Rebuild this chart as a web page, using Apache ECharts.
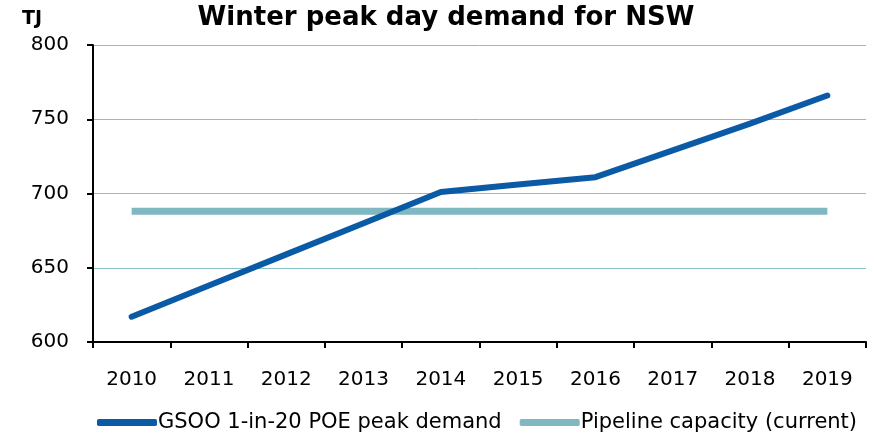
<!DOCTYPE html>
<html><head><meta charset="utf-8">
<script src="https://cdn.jsdelivr.net/npm/echarts@6/dist/echarts.min.js"></script>
<style>html,body{margin:0;padding:0;background:#fff}#c{width:874px;height:435px}</style>
</head><body><div id="c"></div>
<script>
var categories = ['2010','2011','2012','2013','2014','2015','2016','2017','2018','2019'];
var demand = [617, 638, 659, 680, 701, 706, 711, 729, 747, 766];
var pipeline = [688, 688, 688, 688, 688, 688, 688, 688, 688, 688];
var seriesNames = ['GSOO 1-in-20 POE peak demand', 'Pipeline capacity (current)'];
var yTicks = {min: 600, max: 800, interval: 50};
var FONT = 'DejaVu Sans, Verdana, sans-serif';
var chart = echarts.init(document.getElementById('c'));
chart.setOption({
  animation: false,
  title: {text: 'Winter peak day demand for NSW', left: 441, textAlign: 'center', top: 0,
    textStyle: {fontFamily: FONT, fontWeight: 'bold', fontSize: 26, color: '#000'}},
  graphic: [{type: 'text', left: 22, top: 10, style: {text: 'TJ', font: 'bold 19px ' + FONT, fill: '#000'}}],
  legend: {top: 412, left: 97, padding: 0, itemWidth: 60, itemHeight: 7, itemGap: 18,
    textStyle: {fontFamily: FONT, fontSize: 21, color: '#000', padding: [0,0,0,-4]},
    data: [{name: seriesNames[0], icon: 'roundRect', itemStyle: {color: '#0B5AA6'}},
           {name: seriesNames[1], icon: 'roundRect', itemStyle: {color: '#7FB8C1'}}]},
  grid: {left: 93, right: 8, top: 45, bottom: 93},
  xAxis: {type: 'category', data: categories, boundaryGap: true,
    axisLine: {lineStyle: {color: '#000', width: 2}},
    axisTick: {show: true, length: 6, lineStyle: {color: '#000', width: 2}},
    axisLabel: {fontFamily: FONT, fontSize: 20, color: '#000', margin: 28}},
  yAxis: {type: 'value', min: yTicks.min, max: yTicks.max, interval: yTicks.interval,
    axisLine: {show: true, lineStyle: {color: '#000', width: 2}},
    axisTick: {show: true, length: 6, lineStyle: {color: '#000', width: 2}},
    axisLabel: {fontFamily: FONT, fontSize: 20, color: '#000', margin: 24},
    splitLine: {lineStyle: {color: '#86C0C8', width: 1}}},
  series: [
    {name: seriesNames[1], type: 'line', data: pipeline, symbol: 'none', z: 2,
     lineStyle: {color: '#7FB8C1', width: 7}, itemStyle: {color: '#7FB8C1'}},
    {name: seriesNames[0], type: 'line', data: demand, symbol: 'none', z: 3,
     lineStyle: {color: '#0B5AA6', width: 6, cap: 'round', join: 'round'}, itemStyle: {color: '#0B5AA6'}}
  ]
});
</script></body></html>
